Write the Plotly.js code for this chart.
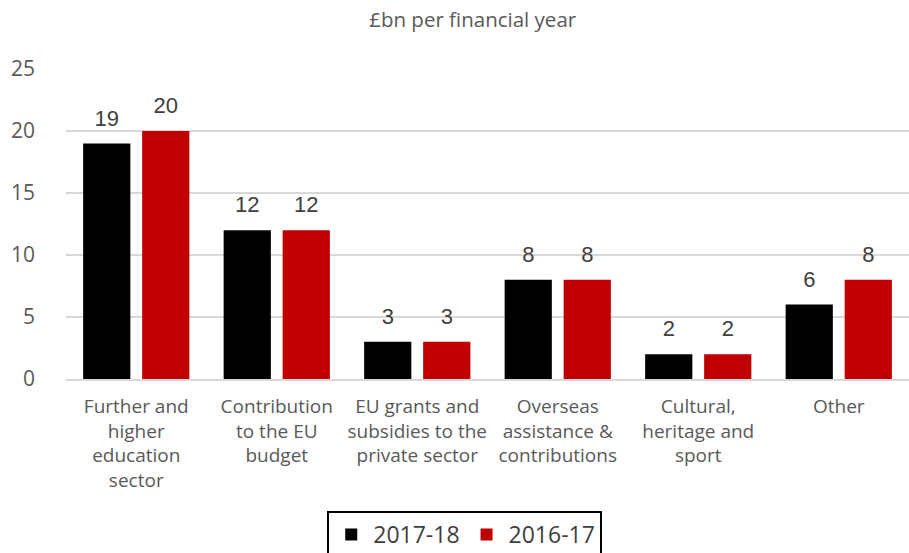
<!DOCTYPE html>
<html><head><meta charset="utf-8">
<script src="https://cdn.plot.ly/plotly-3.0.1.min.js"></script>
<style>html,body{margin:0;padding:0;background:#fff;}#chart{width:909px;height:553px;}</style>
</head><body><div id="chart"></div>
<script>
const categories = ["Further and<br>higher<br>education<br>sector", "Contribution<br>to the EU<br>budget", "EU grants and<br>subsidies to the<br>private sector", "Overseas<br>assistance &<br>contributions", "Cultural,<br>heritage and<br>sport", "Other"];
const series2017 = [19, 12, 3, 8, 2, 6];
const series2016 = [20, 12, 3, 8, 2, 8];
const seriesNames = ["2017-18", "2016-17"];
const yTicks = [0, 5, 10, 15, 20, 25];

const labelFont = {family: "Liberation Sans, Arial, sans-serif", size: 22, color: "#404040"};
const bar = (name, vals, color) => ({type: "bar", name: name, x: categories, y: vals, marker: {color: color}});
const lbl = (vals) => ({type: "scatter", mode: "markers+text", x: categories, y: vals, text: vals.map(String),
  textposition: "top center", textfont: labelFont, marker: {size: 18, opacity: 0}, showlegend: false,
  cliponaxis: false, hoverinfo: "skip"});
const traces = [
  bar(seriesNames[0], series2017, "#000000"),
  bar(seriesNames[1], series2016, "#c00000"),
  lbl(series2017), lbl(series2016)
];
const layout = {
  width: 909, height: 553,
  margin: {l: 66, r: 0, t: 69, b: 174, autoexpand: false},
  paper_bgcolor: "#fff", plot_bgcolor: "#fff",
  font: {family: "Open Sans, sans-serif", color: "#595959"},
  title: {text: "£bn per financial year", x: 0.52, xref: "container", y: 0.965, yref: "container", yanchor: "middle",
          font: {family: "Open Sans, sans-serif", size: 20.5, color: "#595959"}},
  barmode: "group", bargap: 0.16, bargroupgap: 0.2,
  scattermode: "group", scattergap: 0.16,
  xaxis: {tickfont: {size: 19, color: "#595959"}, showline: true, linecolor: "#d9d9d9", linewidth: 2,
          ticks: "", ticklabelstandoff: 9, fixedrange: true},
  yaxis: {range: [0, 25], tickvals: yTicks, showgrid: true, gridcolor: "#d9d9d9", gridwidth: 1.5,
          zeroline: false, ticks: "", ticklabelstandoff: 30, tickfont: {size: 21, color: "#595959"}, fixedrange: true},
  showlegend: true,
  legend: {orientation: "h", x: 0.473, xanchor: "center", y: -0.426, yanchor: "top",
           bordercolor: "#000", borderwidth: 2, font: {size: 23, color: "#404040"}, itemwidth: 34, traceorder: "normal"}
};
Plotly.newPlot("chart", traces, layout, {displayModeBar: false, staticPlot: true});
</script></body></html>
